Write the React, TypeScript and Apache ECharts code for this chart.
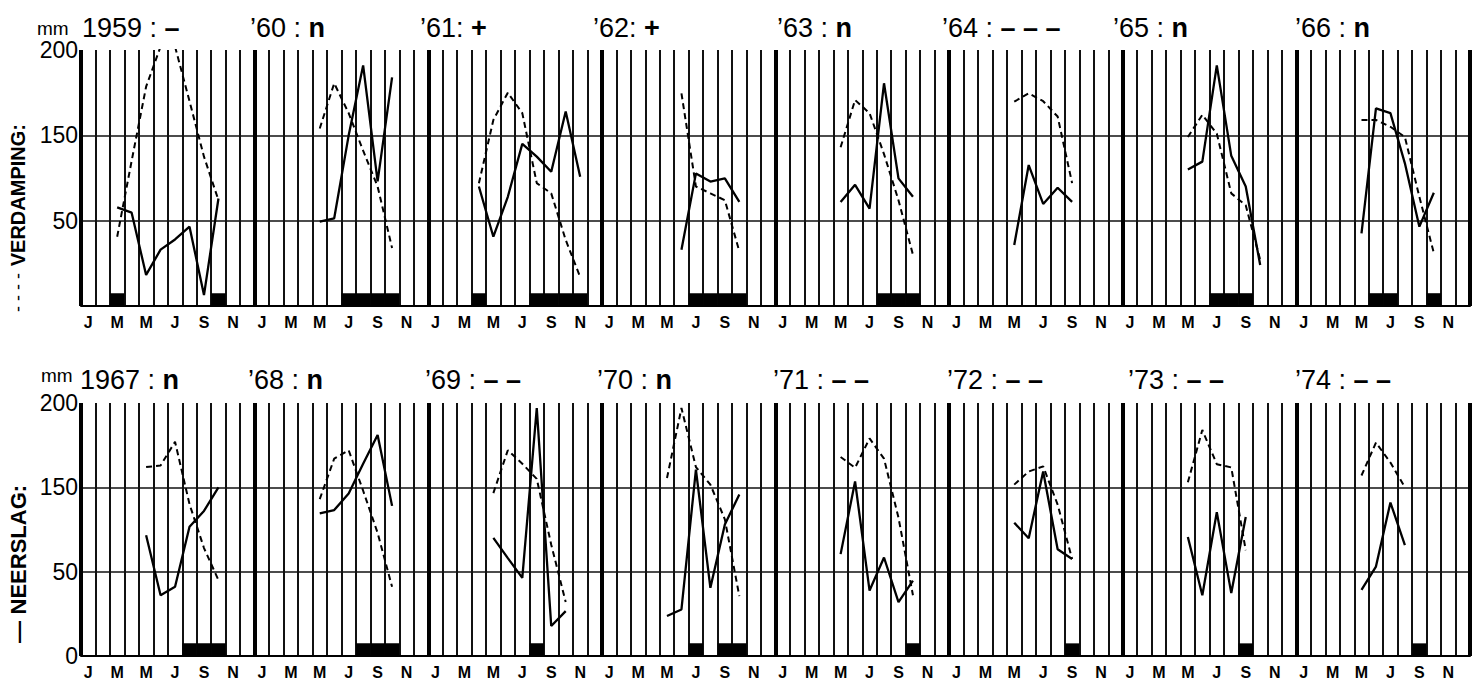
import React, { useEffect, useRef } from "react";
import * as echarts from "echarts";

const _ = null;
const FONT = '"Liberation Sans", Arial, Helvetica, sans-serif';

// Month initials (labels shown for J, M, M, J, S, N)
const MONTHS = ["J", "F", "M", "A", "M", "J", "J", "A", "S", "O", "N", "D"];

const yearsTop = ["1959", "1960", "1961", "1962", "1963", "1964", "1965", "1966"];
const yearsBottom = ["1967", "1968", "1969", "1970", "1971", "1972", "1973", "1974"];

// Panel headings: year and verdict
const headsTop = ["1959 : ", "\u201960 : ", "\u201961: ", "\u201962: ", "\u201963 : ", "\u201964 : ", "\u201965 : ", "\u201966 : "];
const verdictsTop = ["\u2013", "n", "+", "+", "n", "\u2013 \u2013 \u2013", "n", "n"];
const headsBottom = ["1967 : ", "\u201968 : ", "\u201969 : ", "\u201970 : ", "\u201971 : ", "\u201972 : ", "\u201973 : ", "\u201974 : "];
const verdictsBottom = ["n", "n", "\u2013 \u2013", "n", "\u2013 \u2013", "\u2013 \u2013", "\u2013 \u2013", "\u2013 \u2013"];

// Y tick labels: the scale positions 0/50/100/150 carry the printed labels 0/50/150/200
const yTickLabels: Record<number, string> = { 0: "0", 50: "50", 100: "150", 150: "200" };

// Verdamping (dashed) and neerslag (solid), monthly, in axis-scale units
const verd1959 = [_, _, 40.6, 85, 128.5, 152, 152, 120, 87.5, 62, _, _];
const neer1959 = [_, _, 57.8, 54.7, 18.2, 33, 39, 46.5, 6.4, 63, _, _];
const verd1960 = [_, _, _, _, 104, 130.5, 113, 91, 70, 34, _, _];
const neer1960 = [_, _, _, _, 49.4, 51.4, 100, 141, 73, 134, _, _];
const verd1961 = [_, _, _, 71.9, 109, 125, 113, 72, 66, 38.7, 17, _];
const neer1961 = [_, _, _, 70, 40.6, 64, 95, 87.5, 78.7, 114, 75.8, _];
const verd1962 = [_, _, _, _, _, 124.6, 70, 66, 62, 32, _, _];
const neer1962 = [_, _, _, _, _, 33, 77.7, 72.9, 74.8, 61, _, _];
const verd1963 = [_, _, _, _, 93, 120.7, 113, 89, 62, 30, _, _];
const neer1963 = [_, _, _, _, 61, 71, 57, 130.5, 74.8, 64, _, _];
const verd1964 = [_, _, _, _, 119.7, 124.6, 120, 111, 72, _, _, _];
const neer1964 = [_, _, _, _, 35.7, 82.6, 59.8, 69.3, 61, _, _, _];
const verd1965 = [_, _, _, _, 99, 112, 101, 66, 59, 27, _, _];
const neer1965 = [_, _, _, _, 80, 84.6, 141, 88, 70, 24, _, _];
const verd1966 = [_, _, _, _, 109, 109, 105, 99, 64, 31, _, _];
const neer1966 = [_, _, _, _, 42.6, 115.8, 113, 83.6, 46.5, 66.4, _, _];

const verd1967 = [_, _, _, _, 112, 113, 127, 90, 64, 45, _, _];
const neer1967 = [_, _, _, _, 71.6, 36, 41, 76.6, 86, 100, _, _];
const verd1968 = [_, _, _, _, 93, 117, 122, 98, 73, 41, _, _];
const neer1968 = [_, _, _, _, 84.5, 86.5, 96.3, 114, 131, 89, _, _];
const verd1969 = [_, _, _, _, 96.6, 122, 114, 105, 66, 32, _, _];
const neer1969 = [_, _, _, _, 70, 58, 46.3, 147, 17.8, 26.6, _, _];
const verd1970 = [_, _, _, _, 105.5, 147, 112, 101.6, 81, 35.5, _, _];
const neer1970 = [_, _, _, _, 23.7, 27.6, 110.5, 40.4, 78, 95.7, _, _];
const verd1971 = [_, _, _, _, 118, 111.6, 129, 117, 82, 36, _, _];
const neer1971 = [_, _, _, _, 60.4, 103.5, 38.8, 58.4, 32, 44.7, _, _];
const verd1972 = [_, _, _, _, 101.6, 109.4, 112.4, 89.8, 57.5, _, _, _];
const neer1972 = [_, _, _, _, 79, 69.8, 109.4, 63.3, 57.5, _, _, _];
const verd1973 = [_, _, _, _, 103, 134, 113.7, 111.8, 62.7, _, _, _];
const neer1973 = [_, _, _, _, 70.6, 36, 85.3, 37.3, 82.4, _, _, _];
const verd1974 = [_, _, _, _, 107, 126.5, 114.7, 100, _, _, _, _];
const neer1974 = [_, _, _, _, 39.2, 53, 91, 65.7, _, _, _, _];

// Months marked with a black block (month index 0 = J)
const blocksTop = [[2, 9], [6, 7, 8, 9], [3, 7, 8, 9, 10], [6, 7, 8, 9], [7, 8, 9], [], [6, 7, 8], [5, 6, 9]];
const blocksBottom = [[7, 8, 9], [7, 8, 9], [7], [6, 8, 9], [9], [8], [8], [8]];
const BLOCK_LEVEL = 7.5;

const verdTop = [verd1959, verd1960, verd1961, verd1962, verd1963, verd1964, verd1965, verd1966];
const neerTop = [neer1959, neer1960, neer1961, neer1962, neer1963, neer1964, neer1965, neer1966];
const verdBottom = [verd1967, verd1968, verd1969, verd1970, verd1971, verd1972, verd1973, verd1974];
const neerBottom = [neer1967, neer1968, neer1969, neer1970, neer1971, neer1972, neer1973, neer1974];

// layout (pixel positions of headings)
const headXTop = [82, 250, 420, 593, 777, 942, 1113, 1295];
const headXBottom = [80, 248, 425, 597, 773, 947, 1128, 1295];

function cats(years: string[]) {
  const out: string[] = [];
  years.forEach((y) => MONTHS.forEach((m, i) => out.push(m + "_" + y + "_" + i)));
  return out;
}
function blockData(blocks: number[][]) {
  const out: (number | null)[] = [];
  blocks.forEach((ms) => {
    for (let m = 0; m < 12; m++) out.push(ms.includes(m) ? BLOCK_LEVEL : null);
  });
  return out;
}

function catAxis(g: number, data: string[]) {
  return {
    type: "category",
    gridIndex: g,
    data,
    boundaryGap: true,
    axisLine: { show: true, onZero: false, lineStyle: { color: "#000", width: 2 } },
    axisTick: { show: false },
    axisLabel: {
      interval: (i: number) => i % 2 === 0,
      formatter: (v: string) => v.charAt(0),
      color: "#000",
      fontSize: 16,
      fontWeight: "bold",
      fontFamily: FONT,
      margin: 8,
    },
    splitLine: { show: true, interval: 0, lineStyle: { color: "#111", width: 2 } },
  };
}
function yearAxis(g: number) {
  return {
    type: "value",
    gridIndex: g,
    min: 0,
    max: 96,
    interval: 12,
    axisLine: { show: false },
    axisTick: { show: false },
    axisLabel: { show: false },
    splitLine: { show: true, lineStyle: { color: "#000", width: 4 } },
  };
}
function yAxis(g: number, showZero: boolean) {
  return {
    type: "value",
    gridIndex: g,
    min: 0,
    max: 150,
    interval: 50,
    axisLine: { show: false },
    axisTick: { show: false },
    axisLabel: {
      formatter: (v: number) => (!showZero && v === 0 ? "" : yTickLabels[v] ?? ""),
      color: "#000",
      fontSize: 23,
      fontFamily: FONT,
      margin: 3,
    },
    splitLine: {
      show: true,
      showMinLine: false,
      showMaxLine: false,
      lineStyle: { color: "#111", width: 1.7 },
    },
  };
}
function rowSeries(g: number, verd: any[][], neer: any[][], blocks: number[][]) {
  return [
    {
      name: "blok",
      type: "bar",
      xAxisIndex: 2 * g,
      yAxisIndex: g,
      data: blockData(blocks),
      barWidth: "100%",
      itemStyle: { color: "#000" },
      silent: true,
    },
    {
      name: "verdamping",
      type: "line",
      xAxisIndex: 2 * g,
      yAxisIndex: g,
      data: verd.flat(),
      symbol: "none",
      connectNulls: false,
      lineStyle: { color: "#000", width: 2, type: [6, 4] },
      z: 3,
    },
    {
      name: "neerslag",
      type: "line",
      xAxisIndex: 2 * g,
      yAxisIndex: g,
      data: neer.flat(),
      symbol: "none",
      connectNulls: false,
      lineStyle: { color: "#000", width: 2.3 },
      z: 4,
    },
  ];
}

function headings(heads: string[], verdicts: string[], xs: number[], y: number) {
  return heads.map((h, i) => ({
    type: "text",
    x: xs[i],
    y,
    style: {
      text: "{n|" + h + "}{b|" + verdicts[i] + "}",
      align: "left",
      verticalAlign: "middle",
      fill: "#000",
      rich: {
        n: { fontSize: 27, fontFamily: FONT, fontWeight: "normal", fill: "#000" },
        b: { fontSize: 27, fontFamily: FONT, fontWeight: "bold", fill: "#000" },
      },
    },
  }));
}

export default function App() {
  const ref = useRef<HTMLDivElement>(null);
  useEffect(() => {
    if (!ref.current) return;
    const chart = echarts.init(ref.current, null, { renderer: "svg" });
    const option: any = {
      animation: false,
      backgroundColor: "#fff",
      grid: [
        { left: 81, right: 12, top: 50, height: 256, containLabel: false, outerBoundsMode: "none" },
        { left: 81, right: 12, top: 403, height: 253, containLabel: false, outerBoundsMode: "none" },
      ],
      xAxis: [catAxis(0, cats(yearsTop)), yearAxis(0), catAxis(1, cats(yearsBottom)), yearAxis(1)],
      yAxis: [yAxis(0, false), yAxis(1, true)],
      series: [
        ...rowSeries(0, verdTop, neerTop, blocksTop),
        ...rowSeries(1, verdBottom, neerBottom, blocksBottom),
      ],
      graphic: [
        ...headings(headsTop, verdictsTop, headXTop, 28),
        ...headings(headsBottom, verdictsBottom, headXBottom, 380),
        {
          type: "text",
          x: 37,
          y: 28,
          style: { text: "mm", font: `19px ${FONT}`, fill: "#000", align: "left", verticalAlign: "middle" },
        },
        {
          type: "text",
          x: 41,
          y: 375,
          style: { text: "mm", font: `19px ${FONT}`, fill: "#000", align: "left", verticalAlign: "middle" },
        },
        {
          type: "text",
          x: 18,
          y: 218,
          rotation: Math.PI / 2,
          style: {
            text: "{d|- - - -}  {v|VERDAMPING:}",
            align: "center",
            verticalAlign: "middle",
            fill: "#000",
            rich: {
              d: { fontSize: 18, fontFamily: FONT, fontWeight: "normal", fill: "#000" },
              v: { fontSize: 20, fontFamily: FONT, fontWeight: "bold", fill: "#000" },
            },
          },
        },
        {
          type: "text",
          x: 18,
          y: 564,
          rotation: Math.PI / 2,
          style: {
            text: "{d|\u2014}  {v|NEERSLAG:}",
            align: "center",
            verticalAlign: "middle",
            fill: "#000",
            rich: {
              d: { fontSize: 22, fontFamily: FONT, fontWeight: "bold", fill: "#000" },
              v: { fontSize: 22, fontFamily: FONT, fontWeight: "bold", fill: "#000" },
            },
          },
        },
      ],
    };
    chart.setOption(option);
    return () => chart.dispose();
  }, []);
  return (
    <div
      ref={ref}
      style={{ position: "absolute", left: 0, top: 0, width: 1482, height: 680, background: "#fff" }}
    />
  );
}
